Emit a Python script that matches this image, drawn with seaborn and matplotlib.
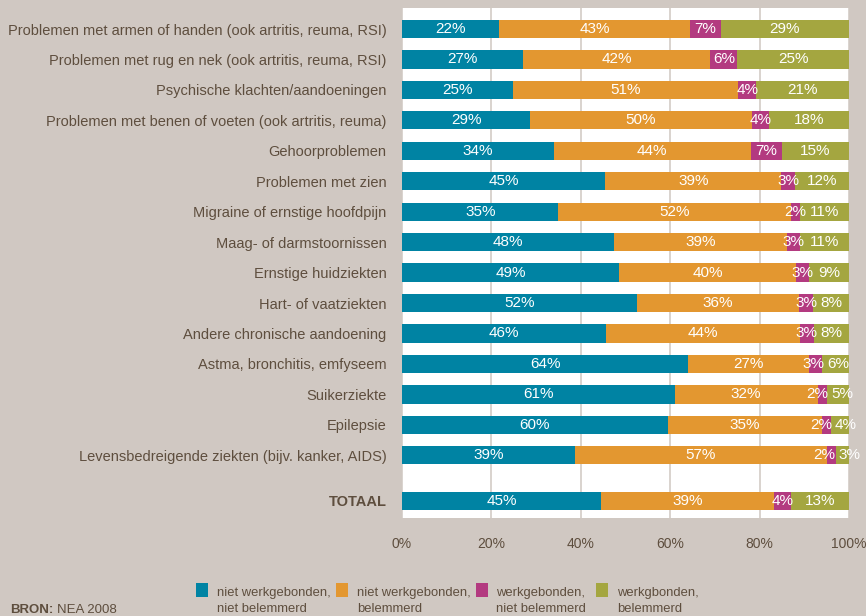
import matplotlib
matplotlib.use("Agg")
import matplotlib.pyplot as plt
from matplotlib.patches import Rectangle
import seaborn as sns
import pandas as pd
import numpy as np

categories = [
    "Problemen met armen of handen (ook artritis, reuma, RSI)",
    "Problemen met rug en nek (ook artritis, reuma, RSI)",
    "Psychische klachten/aandoeningen",
    "Problemen met benen of voeten (ook artritis, reuma)",
    "Gehoorproblemen",
    "Problemen met zien",
    "Migraine of ernstige hoofdpijn",
    "Maag- of darmstoornissen",
    "Ernstige huidziekten",
    "Hart- of vaatziekten",
    "Andere chronische aandoening",
    "Astma, bronchitis, emfyseem",
    "Suikerziekte",
    "Epilepsie",
    "Levensbedreigende ziekten (bijv. kanker, AIDS)",
    "TOTAAL",
]
niet_wg_niet_bel = [22, 27, 25, 29, 34, 45, 35, 48, 49, 52, 46, 64, 61, 60, 39, 45]
niet_wg_bel = [43, 42, 51, 50, 44, 39, 52, 39, 40, 36, 44, 27, 32, 35, 57, 39]
wg_niet_bel = [7, 6, 4, 4, 7, 3, 2, 3, 3, 3, 3, 3, 2, 2, 2, 4]
wg_bel = [29, 25, 21, 18, 15, 12, 11, 11, 9, 8, 8, 6, 5, 4, 3, 13]
series_names = [
    "niet werkgebonden,\nniet belemmerd",
    "niet werkgebonden,\nbelemmerd",
    "werkgebonden,\nniet belemmerd",
    "werkgbonden,\nbelemmerd",
]
x_ticks = [0, 20, 40, 60, 80, 100]

colors = ["#0083a3", "#e39730", "#b33a80", "#a4a640"]
bg = "#d0c8c2"
txt = "#5e4e3e"

sns.set_theme(style="white")
plt.rcParams["font.family"] = ["Liberation Sans", "DejaVu Sans"]

# row positions: one gap (1.5 rows) before the total
positions = list(np.arange(len(categories) - 1, dtype=float)) + [len(categories) - 1 + 0.5]

vals = np.array([niet_wg_niet_bel, niet_wg_bel, wg_niet_bel, wg_bel], dtype=float).T
shares = vals / vals.sum(axis=1, keepdims=True) * 100
cum = np.cumsum(shares, axis=1)

df = pd.DataFrame({"pos": positions})
for k in range(4):
    df[f"c{k}"] = cum[:, k]

fig = plt.figure(figsize=(8.66, 6.16), dpi=100, facecolor=bg)
W, H = 866, 616
ax = fig.add_axes([402 / W, 1 - 518 / H, (849 - 402) / W, (518 - 8) / H])
ax.set_facecolor("white")

for k in range(3, -1, -1):
    sns.barplot(data=df, x=f"c{k}", y="pos", orient="y", native_scale=True,
                color=colors[k], saturation=1, width=0.6, errorbar=None,
                linewidth=0, ax=ax, zorder=2)

ax.set_xlim(0, 100)
ax.set_ylim(positions[-1] + 0.56, -0.69)

# value labels centred in each segment, nudged apart where they would collide
renderer = fig.canvas.get_renderer()
px_per_unit = (849 - 402) / 100.0
gap_px = 3.0
for i, p in enumerate(positions):
    left = 0.0
    texts, centers, widths = [], [], []
    for k in range(4):
        w = shares[i, k]
        t = ax.text(left + w / 2, p, f"{int(vals[i, k])}%", ha="center", va="center",
                    color="white", fontsize=11, zorder=3)
        texts.append(t)
        centers.append(left + w / 2)
        widths.append(t.get_window_extent(renderer=renderer).width / px_per_unit)
        left += w
    for _ in range(3):
        for k in range(3):
            ov = (centers[k] + widths[k] / 2 + gap_px / px_per_unit) - (centers[k + 1] - widths[k + 1] / 2)
            if ov > 0:
                centers[k] -= ov / 2
                centers[k + 1] += ov / 2
    for t, c in zip(texts, centers):
        t.set_x(c)

ax.set_xticks(x_ticks)
ax.set_xticklabels([f"{v}%" for v in x_ticks])
ax.set_yticks(positions)
ax.set_yticklabels(categories)
for lbl in ax.get_yticklabels():
    if lbl.get_text() == "TOTAAL":
        lbl.set_fontweight("bold")
ax.tick_params(axis="y", length=0, pad=11, labelsize=10.5, labelcolor=txt)
ax.tick_params(axis="x", length=0, pad=14, labelsize=10, labelcolor=txt)
ax.set_xlabel("")
ax.set_ylabel("")
for s in ax.spines.values():
    s.set_visible(False)
ax.xaxis.grid(True, color="#d3ccc6", lw=1.2, zorder=0)
ax.set_axisbelow(True)

# legend
sq_x = [196, 336, 476, 596]
tx_x = [217, 357, 496, 617]
for k in range(4):
    fig.add_artist(Rectangle((sq_x[k] / W, 1 - 597 / H), 12 / W, 14 / H,
                             transform=fig.transFigure, color=colors[k], lw=0))
    fig.text(tx_x[k] / W, 1 - 587 / H, series_names[k], ha="left", va="top",
             fontsize=9.4, color=txt, linespacing=1.45)

# source line
t1 = fig.text(10 / W, 1 - 613 / H, "BRON:", fontweight="bold", fontsize=9.5, color=txt,
              ha="left", va="baseline")
bb = t1.get_window_extent(renderer=renderer)
fig.text((bb.x1 + 4) / W, 1 - 613 / H, "NEA 2008", fontsize=9.5, color=txt,
         ha="left", va="baseline")

fig.savefig("out.png", dpi=100, facecolor=bg)
